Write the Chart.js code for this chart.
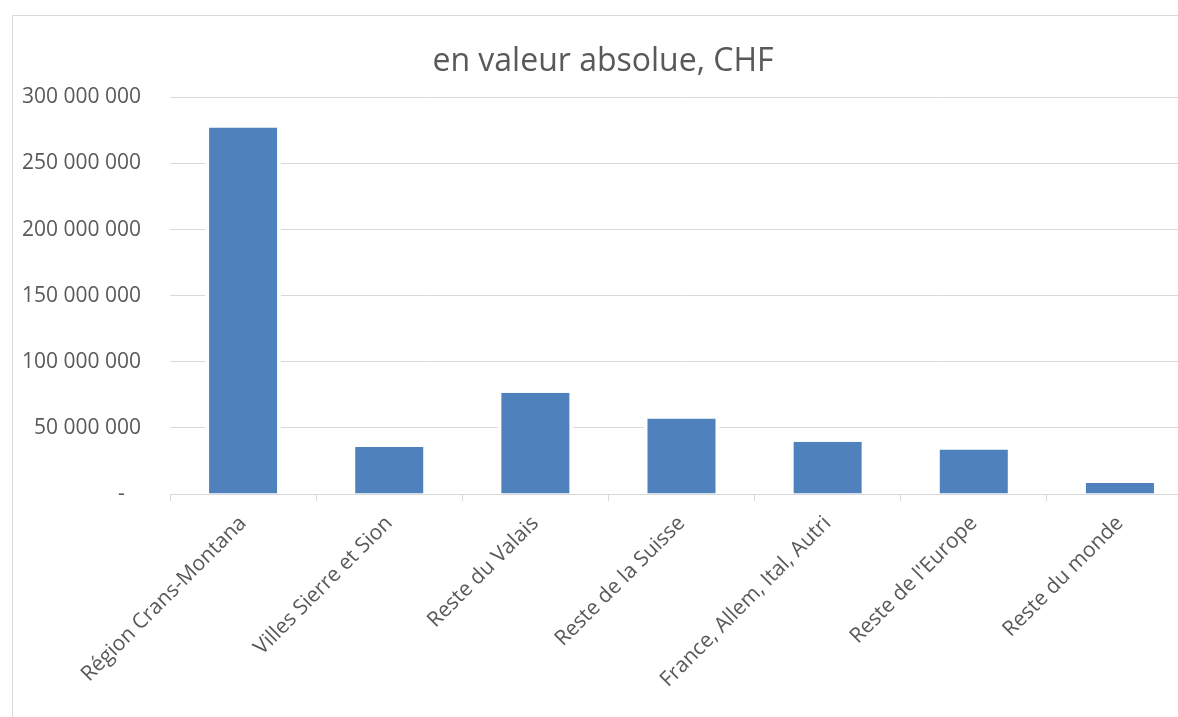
<!DOCTYPE html>
<html>
<head>
<meta charset="utf-8">
<script src="https://cdn.jsdelivr.net/npm/chart.js@4.4.1/dist/chart.umd.min.js"></script>
<style>
  html, body { margin: 0; padding: 0; background: #fff; overflow: hidden; width: 1178px; height: 717px; }
  #box { position: absolute; left: 12px; top: 15px; width: 1180px; height: 720px; border: 1px solid #d9d9d9; background: #fff; }
  #c { display: block; }
</style>
</head>
<body>
<div id="box"><canvas id="c" width="1180" height="720"></canvas></div>
<script>
const titleText = "en valeur absolue, CHF";
const categories = ["Région Crans-Montana", "Villes Sierre et Sion", "Reste du Valais", "Reste de la Suisse", "France, Allem, Ital, Autri", "Reste de l'Europe", "Reste du monde"];
const values = [277300000, 35600000, 76500000, 57100000, 39600000, 33700000, 8300000];
const yMin = 0, yMax = 300000000, yStep = 50000000;

function fmt(v) {
  if (v === 0) return "-   ";
  return String(Math.round(v)).replace(/\B(?=(\d{3})+(?!\d))/g, " ");
}

const FONT = "'Open Sans', sans-serif";
const TXT = "#595959";
const GRID = "#d9d9d9";
const CANVAS_TOP = 16, CANVAS_LEFT = 13, CANVAS_H = 720;

new Chart(document.getElementById('c'), {
  type: 'bar',
  data: {
    labels: categories,
    datasets: [{
      data: values,
      backgroundColor: '#4f81bd',
      borderColor: '#ffffff',
      borderWidth: { left: 4, right: 4, top: 0, bottom: 0 },
      borderSkipped: false,
      categoryPercentage: 1,
      barPercentage: 0.52
    }]
  },
  options: {
    responsive: false,
    animation: false,
    layout: { padding: 0 },
    plugins: {
      legend: { display: false },
      tooltip: { enabled: false },
      title: {
        display: true,
        text: titleText,
        color: TXT,
        font: { family: FONT, size: 32, weight: 'normal' },
        padding: { top: 27, bottom: 16 }
      }
    },
    scales: {
      x: {
        grid: { display: true, drawOnChartArea: false, drawTicks: true, tickLength: 7, color: GRID, offset: true },
        border: { display: true, color: GRID, width: 1, z: 1 },
        ticks: { color: TXT, font: { family: FONT, size: 21 }, minRotation: 45, maxRotation: 45, padding: 10, autoSkip: false },
        afterFit: function(scale) { scale.height = CANVAS_TOP + CANVAS_H - 494; }
      },
      y: {
        min: yMin, max: yMax,
        grid: { color: GRID, drawTicks: false, lineWidth: 1 },
        border: { display: false },
        ticks: { stepSize: yStep, color: TXT, font: { family: FONT, size: 21 }, padding: 29, callback: (v) => fmt(v) },
        afterFit: function(scale) { scale.width = 170 - CANVAS_LEFT; }
      }
    }
  }
});
</script>
</body>
</html>
